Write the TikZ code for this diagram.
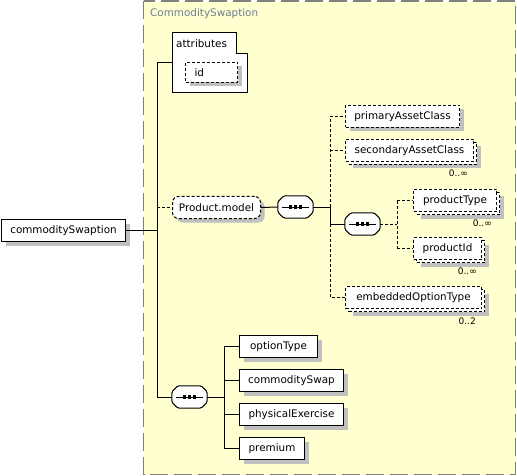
\documentclass[tikz,border=0pt]{standalone}
\usepackage{fontspec}
\setmainfont{DejaVu Sans}
\usetikzlibrary{shadows,calc}
\definecolor{bgyellow}{RGB}{255,255,208}
\definecolor{shadowgray}{RGB}{192,192,192}
\definecolor{framegray}{RGB}{128,128,128}
\definecolor{titleblue}{RGB}{110,125,150}
\newcommand{\nodefont}{\fontsize{10.4}{12}\selectfont}
\newcommand{\octpath}[1]{($(#1.north west)+(6,0)$) -- ($(#1.north east)+(-6,0)$) -- ($(#1.north east)+(0,6)$) -- ($(#1.south east)+(0,-6)$) -- ($(#1.south east)+(-6,0)$) -- ($(#1.south west)+(6,0)$) -- ($(#1.south west)+(0,-6)$) -- ($(#1.north west)+(0,6)$) -- cycle}
\newcommand{\seqmark}[1]{%
  \fill[shadowgray, shift={(4,4)}, rounded corners=1.5pt] \octpath{#1};
  \draw[line width=1pt, fill=white, rounded corners=1.5pt] \octpath{#1};
  \draw[line width=1pt] ([xshift=4pt]#1.west) -- ([xshift=-4pt]#1.east);
  \foreach \dx in {-5,0,5}{\fill ($(#1.center)+(\dx-1.6,-1.6)$) rectangle ($(#1.center)+(\dx+1.6,1.6)$);}
}
\tikzset{
  box/.style={draw=black, fill=white, line width=1pt, inner sep=0pt, minimum height=22pt, anchor=north west, font=\nodefont},
  shadowed/.style={drop shadow={shadow xshift=4pt, shadow yshift=-4pt, fill=shadowgray, opacity=1}},
  opt/.style={dash pattern=on 3pt off 2pt},
  seqbox/.style={rectangle, draw=none, inner sep=0pt, minimum width=35pt, minimum height=22pt},
  conn/.style={line width=1pt, black},
  mult/.style={font=\fontsize{9}{10}\selectfont, anchor=east, inner sep=0pt},
}
\begin{document}
\begin{tikzpicture}[x=1pt,y=-1pt]
\useasboundingbox (0,0) rectangle (517,476);
% outer frame
\draw[framegray, line width=1.6pt, dash pattern=on 18pt off 6pt, fill=bgyellow] (143.5,1) rectangle (515.5,474.5);
\node[anchor=west, inner sep=0pt, text=titleblue, font=\nodefont] (title) at (150,14) {CommoditySwaption};

% root
\node[box, shadowed, minimum width=124pt] (cs) at (1,219) {commoditySwaption};

% attributes
\node[draw=none, inner sep=0pt, minimum width=75pt, minimum height=59pt, anchor=north west] (attrbox) at (172,33) {};
\draw[line width=1pt, fill=white] (attrbox.north west) -- ++(64,0) -- ++(0,21) -- (attrbox.east |- 0,54) -- (attrbox.south east) -- (attrbox.south west) -- cycle;
\node[anchor=west, inner sep=0pt, font=\nodefont] (attr) at (176,44) {attributes};
\node[box, shadowed, opt, minimum height=20pt, text width=34pt, align=left, inner xsep=9pt] (id) at (185,62) {id};

% Product.model group
\node[box, shadowed, opt, rounded corners=6pt, minimum width=88pt] (pm) at (172,196) {Product.model};
\node[seqbox] (s1) at (295.5,207) {};
\seqmark{s1}

% children of s1
\node[box, shadowed, opt, minimum width=114pt] (pac) at (345,105) {primaryAssetClass};
\node[box, shadowed, opt, minimum width=128pt] (sacb) at (348,142) {};
\node[box, opt, minimum width=128pt] (sac) at (345,139) {secondaryAssetClass};
\node[mult] (sacm) at (468,173) {0..∞};

\node[seqbox] (s2) at (362.5,224) {};
\seqmark{s2}

\node[box, shadowed, opt, minimum width=83pt] (ptb) at (416,192) {};
\node[box, opt, minimum width=83pt] (pt) at (413,189) {productType};
\node[mult] (ptm) at (492,223) {0..∞};

\node[box, shadowed, opt, minimum width=68pt] (pidb) at (416,240) {};
\node[box, opt, minimum width=68pt] (pid) at (413,237) {productId};
\node[mult] (pidm) at (477,271) {0..∞};

\node[box, shadowed, opt, minimum width=136pt] (eotb) at (348,289) {};
\node[box, opt, minimum width=136pt] (eot) at (345,286) {embeddedOptionType};
\node[mult] (eotm) at (476,321) {0..2};

% lower sequence
\node[seqbox] (s3) at (189.5,397) {};
\seqmark{s3}
\node[box, shadowed, minimum width=78pt] (ot) at (239,335) {optionType};
\node[box, shadowed, minimum width=104pt] (csw) at (239,369) {commoditySwap};
\node[box, shadowed, minimum width=104pt] (pe) at (239,403) {physicalExercise};
\node[box, shadowed, minimum width=65pt] (pr) at (239,437) {premium};

% connectors
\coordinate (t0) at (157,0);
\coordinate (t1) at (330,0);
\coordinate (t2) at (397,0);
\coordinate (t3) at (224,0);

\draw[conn] (cs.east) -- (cs.east -| t0);
\draw[conn] (attrbox.west -| t0) -- (s3.west -| t0);
\draw[conn] (attrbox.west -| t0) -- (attrbox.west);
\draw[conn, opt] (pm.west -| t0) -- (pm.west);
\draw[conn] (s3.west -| t0) -- (s3.west);

\draw[conn] (pm.east) -- (s1.west);
\draw[conn] (s1.east) -- (s1.east -| t1);
\draw[conn, opt] (s1.east -| t1) -- (pac.west -| t1) -- (pac.west);
\draw[conn, opt] (sac.west -| t1) -- (sac.west);
\draw[conn] (s1.east -| t1) -- (s2.west -| t1) -- (s2.west);
\draw[conn, opt] (s2.west -| t1) -- (eot.west -| t1) -- (eot.west);

\draw[conn, opt] (s2.east) -- (s2.east -| t2);
\draw[conn, opt] (pt.west -| t2) -- (pid.west -| t2);
\draw[conn, opt] (pt.west -| t2) -- (pt.west);
\draw[conn, opt] (pid.west -| t2) -- (pid.west);

\draw[conn] (s3.east) -- (s3.east -| t3);
\draw[conn] (ot.west -| t3) -- (pr.west -| t3);
\draw[conn] (ot.west -| t3) -- (ot.west);
\draw[conn] (csw.west -| t3) -- (csw.west);
\draw[conn] (pe.west -| t3) -- (pe.west);
\draw[conn] (pr.west -| t3) -- (pr.west);
\end{tikzpicture}
\end{document}
